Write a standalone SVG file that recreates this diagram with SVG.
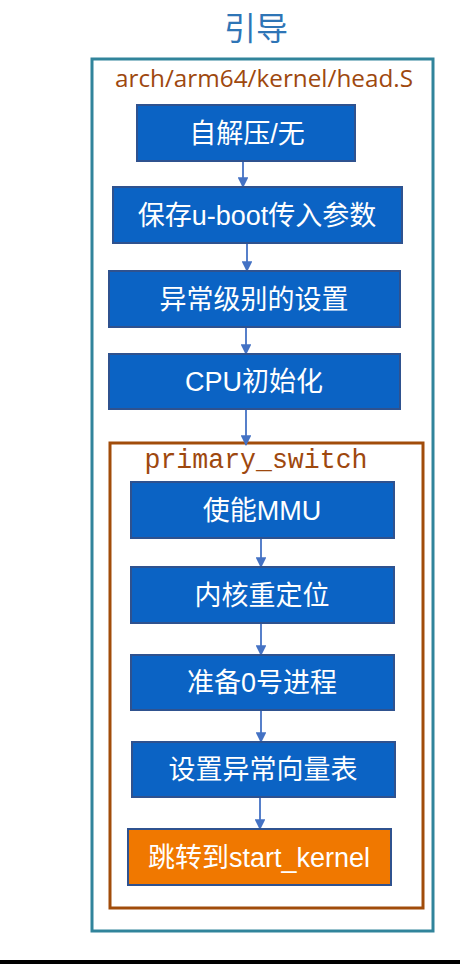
<svg xmlns="http://www.w3.org/2000/svg" width="460" height="964" viewBox="0 0 460 964">
<defs>
<style>
.box{fill:#0B63C4;stroke:#2F528F;stroke-width:2}
.orange{fill:#F07800;stroke:#2F528F;stroke-width:2}
.lbl{font-family:"Liberation Sans","Noto Sans CJK SC",sans-serif;font-size:27px;fill:#FFFFFF;text-anchor:middle}
.conn{stroke:#4472C4;stroke-width:1.8;fill:none;marker-end:url(#ah)}
</style>
<marker id="ah" viewBox="0 0 10 10" refX="9" refY="5" markerWidth="6" markerHeight="6" orient="auto" markerUnits="strokeWidth">
<path d="M0,0 L10,5 L0,10 z" fill="#4472C4"/>
</marker>
</defs>
<rect x="0" y="0" width="460" height="964" fill="#FFFFFF"/>
<rect x="0" y="960" width="460" height="4" fill="#000000"/>
<text x="256" y="40" font-family="'Noto Sans CJK SC',sans-serif" font-size="32" fill="#2E75B6" text-anchor="middle">引导</text>
<g id="outer">
<rect x="92" y="59" width="341" height="872" fill="none" stroke="#31849B" stroke-width="3"/>
<text x="264" y="87" font-family="'Open Sans','Liberation Sans',sans-serif" font-size="24" fill="#9E480E" text-anchor="middle" textLength="298" lengthAdjust="spacingAndGlyphs">arch/arm64/kernel/head.S</text>
</g>
<g id="primary_switch">
<rect x="110" y="443" width="313" height="465" fill="none" stroke="#A14C0A" stroke-width="3"/>
<text x="256" y="468" font-family="'Liberation Mono',monospace" font-size="27" fill="#9E480E" text-anchor="middle" textLength="223" lengthAdjust="spacingAndGlyphs">primary_switch</text>
</g>
<g id="connectors">
<line class="conn" x1="243" y1="161" x2="243" y2="187"/>
<line class="conn" x1="247" y1="243" x2="247" y2="271"/>
<line class="conn" x1="246" y1="327" x2="246" y2="354"/>
<line class="conn" x1="246" y1="409" x2="246" y2="445"/>
<line class="conn" x1="261" y1="538" x2="261" y2="567"/>
<line class="conn" x1="261" y1="623" x2="261" y2="655"/>
<line class="conn" x1="261" y1="710" x2="261" y2="742"/>
<line class="conn" x1="260" y1="797" x2="260" y2="829"/>
</g>
<g id="n1"><rect class="box" x="137" y="105" width="218" height="56"/><text class="lbl" x="247" y="143">自解压/无</text></g>
<g id="n2"><rect class="box" x="113" y="187" width="289" height="56"/><text class="lbl" x="257" y="225">保存u-boot传入参数</text></g>
<g id="n3"><rect class="box" x="109" y="271" width="291" height="56"/><text class="lbl" x="254" y="309">异常级别的设置</text></g>
<g id="n4"><rect class="box" x="109" y="354" width="291" height="55"/><text class="lbl" x="254" y="391">CPU初始化</text></g>
<g id="n5"><rect class="box" x="131" y="482" width="263" height="56"/><text class="lbl" x="262" y="520">使能MMU</text></g>
<g id="n6"><rect class="box" x="131" y="567" width="263" height="56"/><text class="lbl" x="262" y="605">内核重定位</text></g>
<g id="n7"><rect class="box" x="131" y="655" width="263" height="55"/><text class="lbl" x="262" y="692">准备0号进程</text></g>
<g id="n8"><rect class="box" x="132" y="742" width="263" height="55"/><text class="lbl" x="263" y="779">设置异常向量表</text></g>
<g id="n9"><rect class="orange" x="128" y="829" width="263" height="56"/><text class="lbl" x="259" y="867">跳转到start_kernel</text></g>
</svg>
